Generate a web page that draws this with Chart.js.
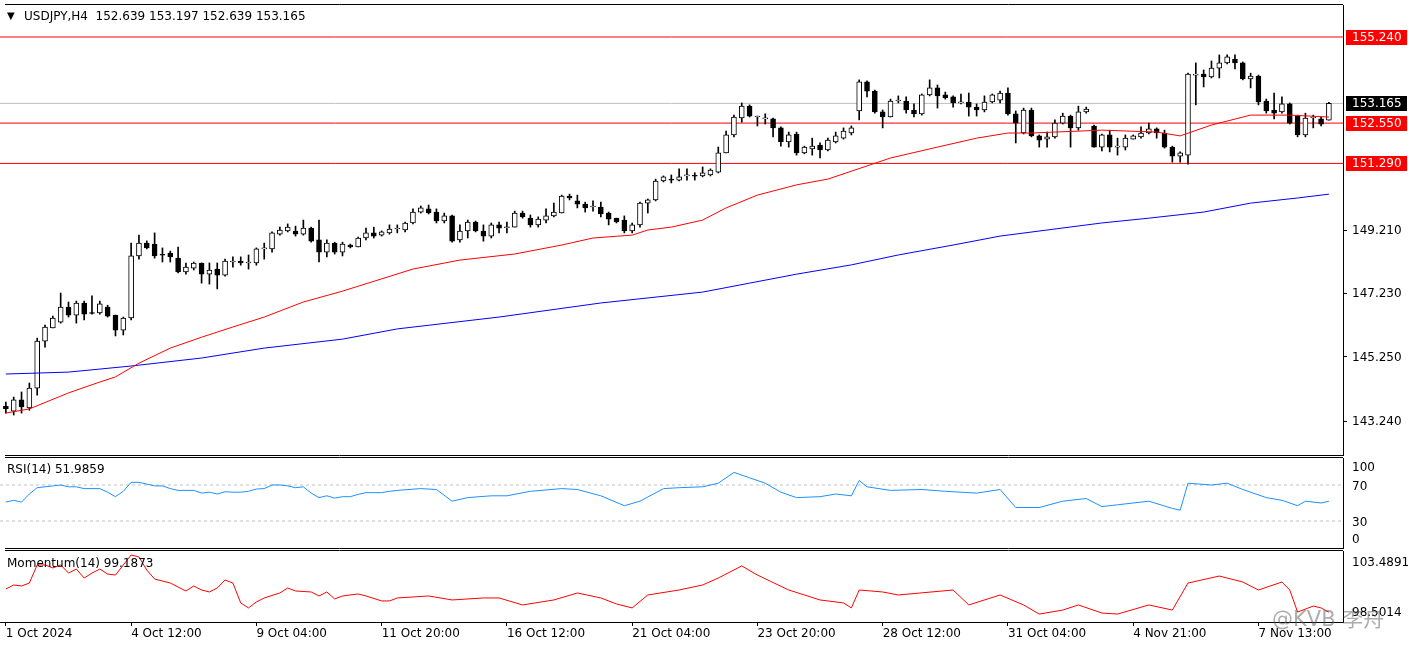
<!doctype html>
<html lang="en">
<head>
<meta charset="utf-8">
<title>USDJPY,H4</title>
<script src="https://cdn.jsdelivr.net/npm/chart.js@4.4.1/dist/chart.umd.min.js"></script>
<style>
  body { margin:0; background:#fff; width:1408px; height:661px; overflow:hidden; position:relative; }
  canvas { position:absolute; left:0; }
  .txt { position:absolute; font:12px "DejaVu Sans"; color:#000; white-space:pre; line-height:14px; }
  .wm { position:absolute; font:21px "DejaVu Sans","Noto Sans CJK SC"; color:rgba(90,90,90,0.5); white-space:pre; }
</style>
</head>
<body>
<canvas id="main" width="1408" height="456" style="top:0"></canvas>
<canvas id="rsi" width="1408" height="93" style="top:456px"></canvas>
<canvas id="mom" width="1408" height="112" style="top:549px"></canvas>
<div class="txt" style="left:7px;top:9px;font-size:10px">&#9660;</div>
<div class="txt" style="left:24px;top:9px">USDJPY,H4  152.639 153.197 152.639 153.165</div>
<div class="txt" style="left:7px;top:462px">RSI(14) 51.9859</div>
<div class="txt" style="left:7px;top:556px">Momentum(14) 99.1873</div>
<div class="wm" style="left:1272px;top:602px">@KVB 李舟</div>
<script>
// candles, H4, oldest first
const opens = [143.70,143.55,143.90,143.65,144.27,145.74,146.15,146.33,146.80,146.55,146.93,146.62,146.62,146.80,146.55,146.08,146.46,148.40,148.80,148.77,
  148.43,148.49,148.33,147.90,148.02,148.18,147.83,147.99,147.80,148.21,148.24,148.18,148.18,148.62,148.62,149.08,149.18,149.18,149.08,149.27,
  148.90,148.52,148.80,148.52,148.74,148.68,148.96,149.12,149.05,149.12,149.24,149.21,149.43,149.77,149.87,149.77,149.49,149.65,148.90,149.18,
  149.46,149.18,149.02,149.37,149.28,149.30,149.74,149.58,149.37,149.52,149.65,149.74,150.27,150.12,150.02,149.93,149.93,149.74,149.58,149.52,
  149.18,149.37,150.05,150.15,150.74,150.80,150.77,150.90,150.90,150.90,150.93,151.02,151.62,152.18,152.71,153.08,152.74,152.68,152.68,152.40,
  151.96,152.21,151.62,151.74,151.86,151.71,151.96,152.08,152.24,152.93,153.84,153.55,152.90,152.74,153.24,153.24,152.96,152.84,153.43,153.65,
  153.43,153.37,153.18,153.21,153.05,152.96,153.21,153.27,153.49,152.84,152.24,152.96,152.15,152.05,152.12,152.55,152.77,152.40,152.90,152.46,
  151.80,152.18,151.80,151.80,152.05,152.12,152.24,152.37,152.24,151.80,151.52,151.55,154.05,154.08,153.99,154.27,154.43,154.55,154.43,153.93,
  154.02,153.24,152.96,152.90,153.15,152.77,152.18,152.71,152.68,152.639];
const highs = [143.83,143.99,144.15,144.43,145.83,146.24,146.52,147.24,146.96,146.99,146.99,147.15,146.99,146.86,146.55,146.49,148.80,149.05,148.87,149.12,
  148.65,148.55,148.68,148.18,148.21,148.18,148.18,148.18,148.30,148.37,148.37,148.43,148.65,148.80,149.15,149.30,149.40,149.33,149.52,149.30,
  149.52,148.90,148.83,148.83,148.77,148.99,149.27,149.30,149.18,149.37,149.37,149.46,149.87,149.96,149.99,149.87,149.74,149.68,149.37,149.52,
  149.49,149.37,149.43,149.46,149.46,149.80,149.80,149.68,149.62,149.87,150.05,150.30,150.33,150.30,150.08,150.12,150.08,149.77,149.58,149.65,
  149.43,150.08,150.18,150.80,150.90,150.93,151.12,151.12,151.00,151.18,151.12,151.80,152.30,152.80,153.18,153.12,152.77,152.84,152.71,152.43,
  152.27,152.27,151.83,152.08,151.93,152.08,152.27,152.40,152.46,153.90,153.87,153.58,152.96,153.30,153.40,153.37,153.15,153.46,153.90,153.74,
  153.52,153.40,153.46,153.49,153.15,153.40,153.46,153.55,153.65,152.93,153.02,153.02,152.18,152.27,152.65,152.86,152.80,153.08,153.05,152.49,
  152.21,152.33,152.08,152.18,152.18,152.43,152.55,152.40,152.33,151.83,151.65,154.11,154.43,154.21,154.49,154.68,154.68,154.68,154.46,154.11,
  154.05,153.30,153.49,153.37,153.18,152.80,152.86,152.80,152.74,153.197];
const lows = [143.49,143.43,143.49,143.58,144.05,145.55,146.15,146.30,146.49,146.30,146.40,146.58,146.58,146.49,145.90,145.93,146.40,148.30,148.62,148.33,
  148.21,148.21,147.87,147.83,147.96,147.55,147.52,147.37,147.77,148.05,148.11,147.99,148.11,148.30,148.52,149.05,149.15,149.02,149.05,148.83,
  148.21,148.37,148.46,148.40,148.65,148.68,148.90,148.96,149.02,149.08,149.12,149.15,149.40,149.74,149.71,149.43,149.43,148.83,148.83,148.96,
  149.15,148.86,148.96,149.12,149.12,149.30,149.58,149.30,149.30,149.43,149.62,149.74,150.15,149.90,149.77,149.80,149.62,149.37,149.43,149.12,
  149.12,149.30,149.74,150.12,150.71,150.68,150.74,150.77,150.77,150.87,150.90,150.99,151.62,152.12,152.58,152.74,152.46,152.52,152.12,151.83,
  151.80,151.55,151.59,151.55,151.46,151.68,151.93,152.05,152.18,152.65,153.37,152.86,152.40,152.74,153.18,152.86,152.74,152.80,153.40,153.02,
  153.30,153.05,153.15,152.77,152.77,152.90,153.18,153.18,152.80,151.93,152.21,152.12,151.80,151.80,152.08,152.52,151.80,152.33,152.86,151.80,
  151.68,151.65,151.55,151.71,152.05,152.08,152.21,152.08,151.77,151.33,151.33,151.27,153.12,153.68,153.96,153.96,154.40,154.24,153.90,153.65,
  153.12,152.86,152.68,152.86,152.52,152.12,152.12,152.40,152.46,152.639];
const closes = [143.62,143.90,143.68,144.27,145.74,146.18,146.46,146.80,146.55,146.93,146.58,146.60,146.90,146.52,146.08,146.46,148.40,148.80,148.65,148.40,
  148.42,148.37,147.90,148.05,148.18,147.83,147.96,147.80,148.24,148.22,148.18,148.19,148.62,148.63,149.12,149.21,149.30,149.08,149.27,148.86,
  148.52,148.80,148.52,148.77,148.68,148.96,149.12,149.02,149.15,149.24,149.25,149.43,149.77,149.90,149.74,149.49,149.65,148.86,149.18,149.46,
  149.18,149.02,149.37,149.27,149.30,149.74,149.62,149.37,149.55,149.65,149.77,150.27,150.21,150.02,149.90,149.94,149.71,149.55,149.46,149.18,
  149.37,150.05,150.15,150.74,150.87,150.77,150.87,150.91,150.89,151.00,151.08,151.62,152.18,152.74,153.08,152.77,152.74,152.68,152.40,151.96,
  152.18,151.62,151.80,151.83,151.71,152.02,152.15,152.30,152.40,153.84,153.55,152.90,152.74,153.24,153.25,152.96,152.84,153.43,153.65,153.40,
  153.34,153.18,153.19,153.05,152.96,153.21,153.43,153.49,152.84,152.55,152.96,152.15,152.02,152.12,152.55,152.77,152.40,152.90,152.99,151.80,
  152.18,151.80,151.81,152.08,152.15,152.24,152.37,152.24,151.80,151.52,151.62,154.08,154.06,153.99,154.27,154.43,154.62,154.43,153.93,154.02,
  153.21,152.93,152.86,153.15,152.55,152.18,152.71,152.72,152.52,153.165];

// moving averages (bar index, price)
const redMaIdx = [0,3,8,12,14,17,21,25,29,33,38,43,52,58,65,71,75,80,82,85,89,92,96,101,105,113,119,124,128,131,140,147,150,154,159,164,169];
const redMaVal = [143.49,143.62,144.12,144.46,144.62,145.05,145.52,145.86,146.18,146.49,146.96,147.30,147.99,148.27,148.46,148.74,148.96,149.05,149.21,149.30,
  149.52,149.90,150.30,150.62,150.80,151.46,151.80,152.08,152.24,152.24,152.33,152.27,152.15,152.49,152.80,152.80,152.74];
const blueMaIdx = [0,8,16,25,33,43,50,63,76,89,95,101,108,114,121,127,133,140,146,153,159,165,169];
const blueMaVal = [144.71,144.77,144.96,145.21,145.52,145.80,146.12,146.49,146.93,147.27,147.55,147.83,148.12,148.43,148.74,149.02,149.21,149.43,149.58,149.77,
  150.05,150.21,150.33];

// horizontal levels and current price
const levels = [155.24, 152.55, 151.29];
const lastPrice = 153.165;
const priceTicks = [143.24, 145.25, 147.23, 149.21];

// RSI(14)
const rsiIdx = [0,1,2,3,4,5,6,7,8,9,10,11,12,13,14,15,16,17,18,19,20,21,22,23,24,25,26,27,28,29,30,31,32,33,34,35,36,37,38,39,
  40,41,42,43,44,45,46,47,48,49,50,53,55,57,59,62,64,67,71,73,76,79,81,84,86,89,91,93,95,97,99,101,104,106,108,109,110,113,117,120,
  124,127,129,132,135,138,140,142,146,149,150,151,154,156,158,161,163,165,166,168,169];
const rsiVal = [51,53,51,60,67,68,69,70,68,68,66,66,66,62,57,63,73,73,71,69,69,66,64,64,64,61,62,60,62.5,62,62,63,65.5,66,70,70,69,67,68,61,
  56,58,55.5,57,57,59.6,61.5,61.5,61.5,63,64,66,65,52,56,58,58,63,66,65,58,47,52,66,67,68,72,84,78,72,62,56,57,60,58,75,68,64,65,63,
  61,65,45,45,52,55,46,48,52,44,42,72,70,72,65,56,53,47,52,50,51.9859];
const rsiLevels = [70, 30];

// Momentum(14)
const momIdx = [0,1,2,3,4,5,6,7,8,9,10,11,12,13,14,16,17,18,19,21,23,24,25,26,27,28,29,30,31,32,33,35,36,37,39,40,41,42,43,45,
  46,48,49,50,54,57,61,63,66,70,73,76,78,80,82,86,89,91,94,96,100,104,107,108,109,112,114,121,123,127,130,132,135,137,140,142,146,149,151,155,
  158,160,163,164,165,167,168,169];
const momVal = [100.82,101.10,101.03,101.24,102.51,102.51,102.30,102.51,101.94,102.22,101.59,101.94,102.22,101.87,101.80,103.21,103.07,102.15,101.52,101.24,
  100.68,101.03,100.75,100.61,100.89,101.45,101.24,99.84,99.49,99.91,100.19,100.54,100.89,100.68,100.61,100.33,100.61,100.12,100.33,100.47,
  100.33,99.98,99.98,100.19,100.33,100.05,100.19,100.19,99.70,100.05,100.54,100.19,99.77,99.49,100.40,100.75,101.10,101.59,102.44,101.80,
  100.75,100.05,99.84,99.49,100.75,100.61,100.40,100.75,99.70,100.40,99.70,99.06,99.34,99.70,99.13,99.06,99.70,99.34,101.24,101.73,
  101.31,100.75,101.31,100.75,99.20,99.62,99.49,99.1873];
const momTop = 103.4891, momBottom = 98.5014;

// x-axis labels (bar index -> text)
const timeIdx = [0,16,32,48,64,80,96,112,128,144,160];
const timeLabels = ['1 Oct 2024','4 Oct 12:00','9 Oct 04:00','11 Oct 20:00','16 Oct 12:00','21 Oct 04:00','23 Oct 20:00','28 Oct 12:00','31 Oct 04:00','4 Nov 21:00','7 Nov 13:00'];

const xMin = -0.75, xMax = 170.8;
const FONT = '12px "DejaVu Sans"';

// frame lines and right-side value labels
const paneText = {
  id: 'paneText',
  afterDraw(chart, args, opts) {
    const ctx = chart.ctx, ys = chart.scales.y, a = chart.chartArea;
    ctx.save();
    ctx.strokeStyle = '#000';
    ctx.lineWidth = 1;
    ctx.beginPath();
    ctx.moveTo(5, Math.round(a.top) - 0.5); ctx.lineTo(a.right, Math.round(a.top) - 0.5);
    ctx.moveTo(5, Math.round(a.bottom) + 0.5); ctx.lineTo(a.right, Math.round(a.bottom) + 0.5);
    ctx.stroke();
    ctx.font = FONT;
    ctx.textBaseline = 'middle';
    (opts.labels || []).forEach(l => {
      const y = Math.round(ys.getPixelForValue(l.value) + (l.dy || 0));
      if (l.bg) {
        ctx.fillStyle = l.bg;
        ctx.fillRect(a.right + 3, y - 7, 61, 15);
      }
      ctx.fillStyle = l.fg || '#000';
      ctx.fillText(l.text, a.right + 9, y + 1);
    });
    ctx.restore();
  }
};
Chart.register(paneText);

function hLine(v, color, dash) {
  return { type: 'line', data: [{x: xMin, y: v}, {x: xMax, y: v}], borderColor: color, borderWidth: 1,
           borderDash: dash || [], pointRadius: 0 };
}
function rightAxis(min, max, tickVals) {
  return {
    position: 'right', min: min, max: max,
    afterFit: s => { s.width = 65; },
    afterBuildTicks: s => { s.ticks = tickVals.map(v => ({value: v})); },
    ticks: { display: false },
    grid: { drawOnChartArea: false, color: '#000', tickLength: 4 },
    border: { color: '#000' }
  };
}
const common = {
  responsive: false, animation: false, devicePixelRatio: 1,
  plugins: { legend: { display: false }, tooltip: { enabled: false } }
};

// main price pane
new Chart(document.getElementById('main'), {
  type: 'bar',
  data: {
    datasets: [
      { type: 'line', data: redMaIdx.map((x, i) => ({x: x, y: redMaVal[i]})), borderColor: '#ff0000', borderWidth: 1, pointRadius: 0 },
      { type: 'line', data: blueMaIdx.map((x, i) => ({x: x, y: blueMaVal[i]})), borderColor: '#0000ff', borderWidth: 1, pointRadius: 0 },
      { data: opens.map((o, i) => ({x: i, y: [o, closes[i]]})),
        backgroundColor: opens.map((o, i) => closes[i] >= o ? '#ffffff' : '#000000'),
        borderColor: '#000', borderWidth: 1, borderSkipped: false, barThickness: 5, minBarLength: 1, grouped: false },
      { data: lows.map((l, i) => ({x: i, y: [l, highs[i]]})), backgroundColor: '#000', borderWidth: 0,
        barThickness: 1, grouped: false },
      ...levels.map(v => hLine(v, '#ff0000')),
      hLine(lastPrice, '#c0c0c0')
    ]
  },
  options: {
    ...common,
    layout: { padding: { top: 5, bottom: 1, left: 0, right: 0 } },
    scales: {
      x: { type: 'linear', min: xMin, max: xMax, offset: false, display: false },
      y: rightAxis(142.18, 156.24, priceTicks)
    },
    plugins: {
      ...common.plugins,
      paneText: { labels: [
        ...priceTicks.map(v => ({value: v, text: v.toFixed(3)})),
        ...levels.map(v => ({value: v, text: v.toFixed(3), bg: '#ff0000', fg: '#fff'})),
        {value: lastPrice, text: lastPrice.toFixed(3), bg: '#000', fg: '#fff'}
      ] }
    }
  }
});

// RSI pane
new Chart(document.getElementById('rsi'), {
  type: 'line',
  data: {
    datasets: [
      { data: rsiIdx.map((x, i) => ({x: x, y: rsiVal[i]})), borderColor: '#1e90ff', borderWidth: 1, pointRadius: 0 },
      ...rsiLevels.map(v => hLine(v, '#c0c0c0', [3, 3]))
    ]
  },
  options: {
    ...common,
    layout: { padding: { top: 2, bottom: 1, left: 0, right: 0 } },
    scales: {
      x: { type: 'linear', min: xMin, max: xMax, display: false },
      y: rightAxis(0, 100, [])
    },
    plugins: {
      ...common.plugins,
      paneText: { labels: [
        {value: 100, text: '100', dy: 9}, {value: 70, text: '70', dy: 1},
        {value: 30, text: '30', dy: 1}, {value: 0, text: '0', dy: -9}
      ] }
    }
  }
});

// Momentum pane with the time axis
new Chart(document.getElementById('mom'), {
  type: 'line',
  data: {
    datasets: [
      { data: momIdx.map((x, i) => ({x: x, y: momVal[i]})), borderColor: '#ff0000', borderWidth: 1, pointRadius: 0 }
    ]
  },
  options: {
    ...common,
    layout: { padding: { top: 2, bottom: 0, left: 0, right: 0 } },
    scales: {
      x: {
        type: 'linear', min: xMin, max: xMax, position: 'bottom',
        afterFit: s => { s.height = 39; },
        afterBuildTicks: s => { s.ticks = timeIdx.map(v => ({value: v})); },
        ticks: { align: 'start', maxRotation: 0, autoSkip: false, padding: 1, color: '#000',
                 font: { family: 'DejaVu Sans', size: 12 },
                 callback: v => timeLabels[timeIdx.indexOf(v)] },
        grid: { drawOnChartArea: false, color: '#000', tickLength: 4 },
        border: { color: '#000' }
      },
      y: rightAxis(momBottom, momTop, [])
    },
    plugins: {
      ...common.plugins,
      paneText: { labels: [
        {value: momTop, text: momTop.toFixed(4), dy: 11},
        {value: momBottom, text: momBottom.toFixed(4), dy: -10}
      ] }
    }
  }
});
</script>
</body>
</html>
